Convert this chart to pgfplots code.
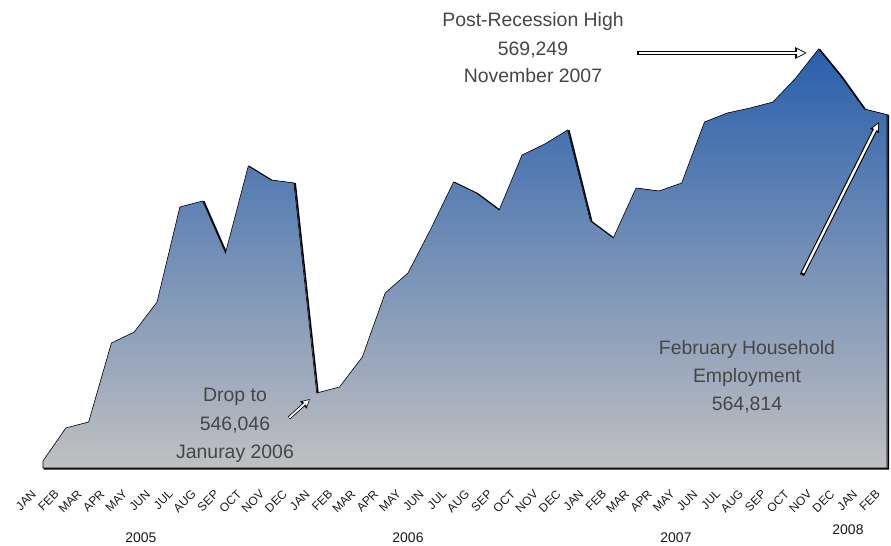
\documentclass[border=0pt]{standalone}
\usepackage{pgfplots}
\pgfplotsset{compat=1.18}
\usepackage{pgfplotstable}
\usepackage{fontspec}
\setmainfont{Liberation Sans}
\usetikzlibrary{arrows.meta}
\definecolor{topblue}{RGB}{40,95,172}
\definecolor{midblue}{RGB}{132,147,196}
\definecolor{botgrey}{RGB}{192,192,193}
\definecolor{txt}{RGB}{70,70,70}

\pgfplotstableread{
x y
0 541459
1 543685
2 544090
3 549419
4 550160
5 552184
6 558592
7 558996
8 555489
9 561357
10 560413
11 560211
12 546046
13 546451
14 548474
15 552791
16 554140
17 557108
18 560278
19 559536
20 558389
21 562099
22 562841
23 563785
24 557647
25 556501
26 559873
27 559671
28 560211
29 564325
30 564932
31 565269
32 565674
33 567293
34 569249
35 567360
36 565202
37 564814
}\emp

\begin{document}
\begin{tikzpicture}
\useasboundingbox (-43bp,-78bp) rectangle (848bp,468bp);
\begin{axis}[
  at={(0,0)}, anchor=south west,
  scale only axis, width=844bp, height=468bp,
  xmin=0, xmax=37, ymin=540987, ymax=572554,
  clip=false,
  axis line style={draw=none},
  ytick=\empty,
  xtick={0,...,37},
  xticklabels={JAN,FEB,MAR,APR,MAY,JUN,JUL,AUG,SEP,OCT,NOV,DEC,JAN,FEB,MAR,APR,MAY,JUN,JUL,AUG,SEP,OCT,NOV,DEC,JAN,FEB,MAR,APR,MAY,JUN,JUL,AUG,SEP,OCT,NOV,DEC,JAN,FEB},
  xtick style={draw=none},
  xticklabel style={xshift=-12bp, yshift=-21bp, rotate=45, anchor=north east, inner sep=0pt,
    font=\fontsize{12}{14}\selectfont, text=black!90},
]
\addplot[draw=black, line width=0.6bp,
  bottom color=botgrey, middle color=midblue, top color=topblue,
  preaction={draw=black, line width=1.4bp, transform canvas={xshift=1.4bp, yshift=-0.8bp}}]
  table[x=x, y=y] {\emp} -- (rel axis cs:1,0) -- (rel axis cs:0,0) -- cycle;
\end{axis}

\begin{scope}[x=1bp, y=-1bp, shift={(-43bp,468bp)}]
  \begin{scope}[txt, font=\fontsize{19.5}{23}\selectfont]
    \node[anchor=base] at (533,27) {Post-Recession High};
    \node[anchor=base] at (533,56) {569,249};
    \node[anchor=base] at (533,83) {November 2007};
    \node[anchor=base] at (235,402) {Drop to};
    \node[anchor=base] at (235,431) {546,046};
    \node[anchor=base] at (235,459) {Januray 2006};
    \node[anchor=base] at (747,355) {February Household};
    \node[anchor=base] at (747,383) {Employment};
    \node[anchor=base] at (747,411) {564,814};
  \end{scope}
  \begin{scope}[black!90, font=\fontsize{14}{16}\selectfont]
    \node[anchor=base] at (141,543) {2005};
    \node[anchor=base] at (408,543) {2006};
    \node[anchor=base] at (676,543) {2007};
    \node[anchor=base] at (848,535) {2008};
  \end{scope}
  % arrows
  \draw[line width=4.6bp, black, line cap=rect, -{Triangle[length=12bp,width=11bp]}] (639,53) -- (807,53);
  \draw[line width=2.4bp, white, shorten >=1.8bp, shorten <=0.2bp, -{Triangle[length=8bp,width=7bp]}] (639,53) -- (807,53);
  \draw[line width=4.6bp, black, line cap=rect, -{Triangle[length=10bp,width=9bp]}] (803,273) -- (879,122);
  \draw[line width=2.4bp, white, shorten >=1.8bp, shorten <=0.2bp, -{Triangle[length=6.5bp,width=5.5bp]}] (803,273) -- (879,122);
  \draw[line width=3.4bp, black, -{Triangle[length=9bp,width=9bp]}] (289,418) -- (310,399);
  \draw[line width=1.8bp, white, shorten >=1.5bp, shorten <=0.3bp, -{Triangle[length=5.5bp,width=5.5bp]}] (289,418) -- (310,399);
\end{scope}
\end{tikzpicture}
\end{document}
